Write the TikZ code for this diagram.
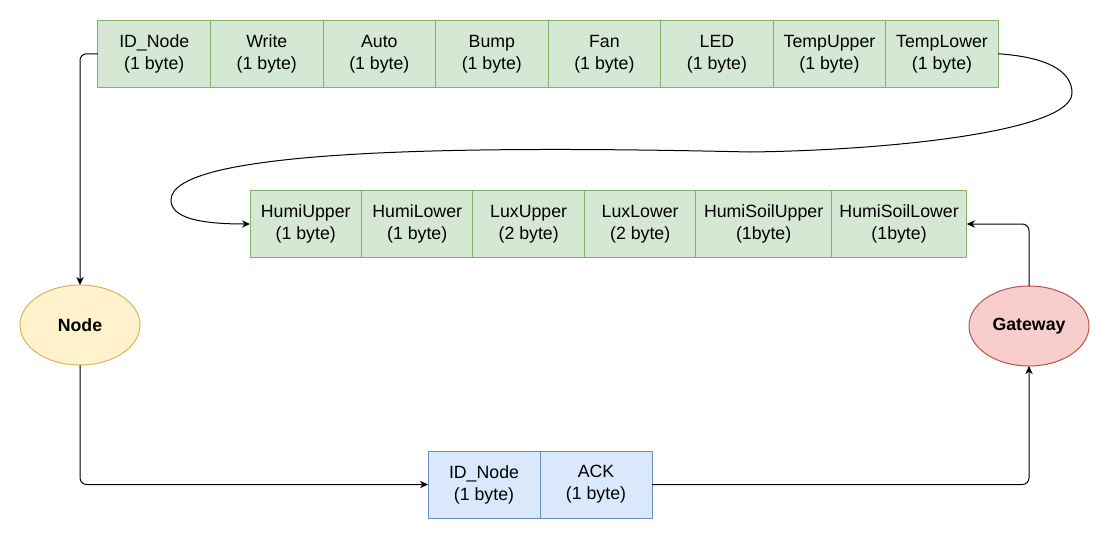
\documentclass[tikz,border=0pt]{standalone}
\usepackage{fontspec}
\setmainfont{Liberation Sans}
\usetikzlibrary{arrows.meta,positioning,shapes.geometric}
\definecolor{fldfill}{HTML}{D5E8D4}\definecolor{fldline}{HTML}{82B366}
\definecolor{ackfill}{HTML}{DAE8FC}\definecolor{ackline}{HTML}{6C8EBF}
\definecolor{ndfill}{HTML}{FFF2CC}\definecolor{ndline}{HTML}{D6B656}
\definecolor{gwfill}{HTML}{F8CECC}\definecolor{gwline}{HTML}{B85450}

\begin{document}
\begin{tikzpicture}[x=0.75pt,y=-0.75pt,node distance=0pt,every node/.style={font=\fontsize{13.3}{16.5}\selectfont,align=center,inner sep=0pt,outer sep=0pt,line width=0.75pt},
    field/.style={draw=fldline,fill=fldfill,minimum width=84.4pt,minimum height=50.25pt},
    ackfield/.style={draw=ackline,fill=ackfill,minimum width=84pt,minimum height=50.25pt},
    station/.style={ellipse,minimum width=90pt,minimum height=60pt,font=\fontsize{13.3}{16.5}\selectfont\bfseries},
    link/.style={-{Stealth[length=6pt,width=5.5pt,inset=1.8pt]},line width=0.75pt,rounded corners=5pt}]
      \useasboundingbox (0,0) rectangle (1110,540);
      % sensor frame, first part
      \node[field] (id) at (154.25,53.75) {ID\_Node\\(1 byte)}; \node[field,right=of id] (wr) {Write\\(1 byte)}; \node[field,right=of wr] (au) {Auto\\(1 byte)}; \node[field,right=of au] (bu) {Bump\\(1 byte)};
      \node[field,right=of bu] (fa) {Fan\\(1 byte)}; \node[field,right=of fa] (le) {LED\\(1 byte)}; \node[field,right=of le] (tu) {TempUpper\\(1 byte)}; \node[field,right=of tu] (tl) {TempLower\\(1 byte)};
      % sensor frame, second part
      \node[field,minimum width=83.6pt] (hu) at (305.75,224) {HumiUpper\\(1 byte)}; \node[field,minimum width=83.6pt,right=of hu] (hl) {HumiLower\\(1 byte)}; \node[field,minimum width=83.6pt,right=of hl] (xu) {LuxUpper\\(2 byte)};
      \node[field,minimum width=83.6pt,right=of xu] (xl) {LuxLower\\(2 byte)}; \node[field,minimum width=101.6pt,right=of xl] (su) {HumiSoilUpper\\(1byte)}; \node[field,minimum width=101.6pt,right=of su] (sl) {HumiSoilLower\\(1byte)};
      % ack frame
      \node[ackfield] (ai) at (484,484.5) {ID\_Node\\(1 byte)}; \node[ackfield,right=of ai] (ak) {ACK\\(1 byte)};
      \node[station,draw=ndline,fill=ndfill] (nd) at (80,325) {Node}; \node[station,draw=gwline,fill=gwfill] (gw) at (1029,326) {Gateway};
      \draw[link] (id.west) -| (nd.north); \draw[link] (nd.south) |- (ai.west); \draw[link] (ak.east) -| (gw.south); \draw[link] (gw.north) |- (sl.east);
      \draw[link,rounded corners=0pt] (tl.east) .. controls (1045,57) and (1072,70) .. (1072,93) .. controls (1072,130) and (900,150) .. (750,152) .. controls (450,145) and (171,150) .. (171,200) .. controls (171,218) and (200,224) .. (hu.west);
    \end{tikzpicture}
\end{document}
